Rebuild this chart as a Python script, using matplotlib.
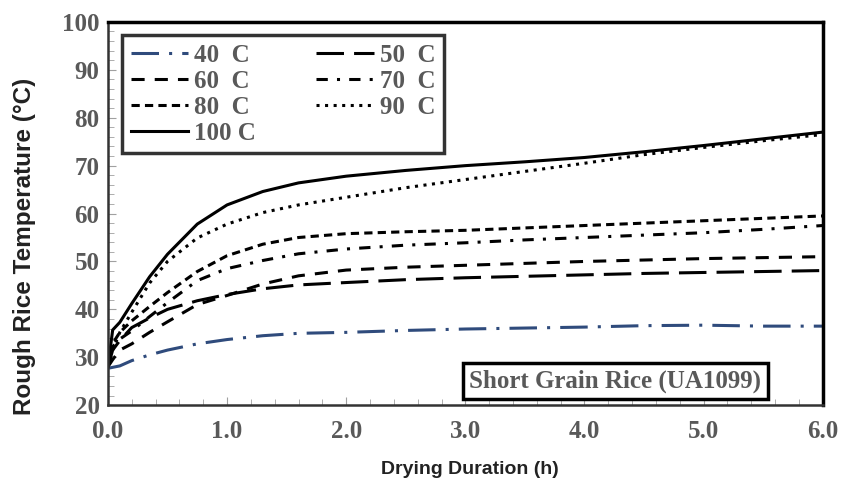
import matplotlib.pyplot as plt
from matplotlib.ticker import MultipleLocator

# drying time (h) and rough rice temperature (C)
hours = [0.0, 0.04, 0.1, 0.2, 0.35, 0.5, 0.75, 1.0, 1.3, 1.6, 2.0, 2.5,
         3.0, 3.5, 4.0, 4.5, 5.0, 5.5, 6.0]
t40 = [27.7, 27.9, 28.2, 29.3, 30.5, 31.5, 32.8, 33.7, 34.5, 35.0, 35.2, 35.6,
       35.9, 36.1, 36.3, 36.6, 36.7, 36.5, 36.5]
t50 = [28.0, 31.5, 33.5, 36.2, 38.2, 40.0, 41.8, 43.1, 44.3, 45.1, 45.6, 46.2,
       46.6, 46.9, 47.2, 47.5, 47.7, 47.9, 48.1]
t60 = [28.0, 29.5, 31.5, 32.8, 35.2, 37.4, 41.0, 42.9, 45.3, 47.0, 48.2, 48.8,
       49.2, 49.6, 50.0, 50.3, 50.6, 50.8, 51.0]
t70 = [28.0, 32.2, 33.8, 35.5, 38.5, 41.4, 46.0, 48.5, 50.2, 51.6, 52.6, 53.4,
       53.9, 54.5, 55.0, 55.5, 56.0, 56.7, 57.5]
t80 = [28.0, 32.9, 35.2, 37.6, 40.6, 43.5, 47.9, 51.2, 53.6, 55.0, 55.8, 56.2,
       56.5, 57.0, 57.5, 58.0, 58.5, 59.0, 59.5]
t90 = [28.0, 31.5, 35.2, 39.4, 45.5, 50.0, 54.9, 57.8, 60.2, 61.8, 63.4, 65.4,
       67.1, 68.8, 70.5, 72.3, 73.8, 75.2, 76.5]
t100 = [28.0, 35.7, 37.3, 41.2, 46.8, 51.5, 57.8, 61.8, 64.6, 66.4, 67.8, 69.0,
        70.0, 70.8, 71.7, 72.9, 74.2, 75.6, 77.0]

labels = ["40  C", "50  C", "60  C", "70  C", "80  C", "90  C", "100 C"]

gray = "#595959"

fig = plt.figure(figsize=(8.43, 4.87), dpi=100)
ax = fig.add_axes([0.128, 0.168, 0.848, 0.787])

lw = 2.2
l40, = ax.plot(hours, t40, color="#2f4b7c", lw=lw, dashes=(9, 3.3, 1, 3.3))
l50, = ax.plot(hours, t50, color="black", lw=lw, dashes=(9, 3.3))
l60, = ax.plot(hours, t60, color="black", lw=lw, dashes=(4.3, 3.3))
l70, = ax.plot(hours, t70, color="black", lw=lw, dashes=(3.7, 3, 1, 3))
l80, = ax.plot(hours, t80, color="black", lw=lw, dashes=(2.7, 1.7))
l90, = ax.plot(hours, t90, color="black", lw=lw, dashes=(1, 1.8))
l100, = ax.plot(hours, t100, color="black", lw=lw)

ax.set_xlim(0, 6)
ax.set_ylim(20, 100)
ax.xaxis.set_major_locator(MultipleLocator(1))
ax.xaxis.set_minor_locator(MultipleLocator(0.2))
ax.yaxis.set_major_locator(MultipleLocator(10))
ax.yaxis.set_minor_locator(MultipleLocator(2))
ax.xaxis.set_major_formatter(lambda v, p: f"{v:.1f}")
ax.tick_params(which="both", direction="in", color="#a0a0a0")
ax.tick_params(which="major", length=6, labelsize=18, labelcolor=gray)
ax.tick_params(axis="x", which="major", pad=11)
ax.tick_params(axis="y", which="major", pad=6)
ax.tick_params(which="minor", length=4)
for lab in ax.get_xticklabels() + ax.get_yticklabels():
    lab.set_fontfamily("Liberation Serif")
    lab.set_fontweight("bold")

for s in ["top", "right"]:
    ax.spines[s].set_color("black")
    ax.spines[s].set_linewidth(2.5)
for s in ["left", "bottom"]:
    ax.spines[s].set_color("#333333")
    ax.spines[s].set_linewidth(1.8)

# axis titles sit a bit off-centre in the original
fig.text(0.557, 0.035, "Drying Duration (h)", ha="center", va="center",
         fontfamily="Liberation Sans", fontweight="bold", fontsize=14, color="#222222")
fig.text(0.0285, 0.495, "Rough Rice Temperature (\u00b0C)", ha="center", va="center",
         rotation=90, fontfamily="Liberation Sans", fontweight="bold", fontsize=17.5,
         color="#222222")

# legend filled row-wise like the original
handles = [l40, l60, l80, l100, l50, l70, l90]
order = [0, 2, 4, 6, 1, 3, 5]
leg = ax.legend(handles, [labels[i] for i in order], ncol=2, loc="upper left",
                bbox_to_anchor=(0.0196, 0.966), borderaxespad=0, frameon=True,
                fancybox=False,
                prop={"family": "Liberation Serif", "weight": "bold", "size": 18},
                handlelength=2.3, handletextpad=0.25, columnspacing=2.4,
                labelspacing=0.12, borderpad=0.35)
leg.get_frame().set_edgecolor("black")
leg.get_frame().set_linewidth(2.5)
for t in leg.get_texts():
    t.set_color(gray)

ax.text(0.71, 0.063, "Short Grain Rice (UA1099)", transform=ax.transAxes,
        ha="center", va="center", fontfamily="Liberation Serif", fontweight="bold",
        fontsize=18, color=gray,
        bbox=dict(boxstyle="square,pad=0.25", fc="white", ec="black", lw=2.5))

fig.savefig("out.png", dpi=100)
